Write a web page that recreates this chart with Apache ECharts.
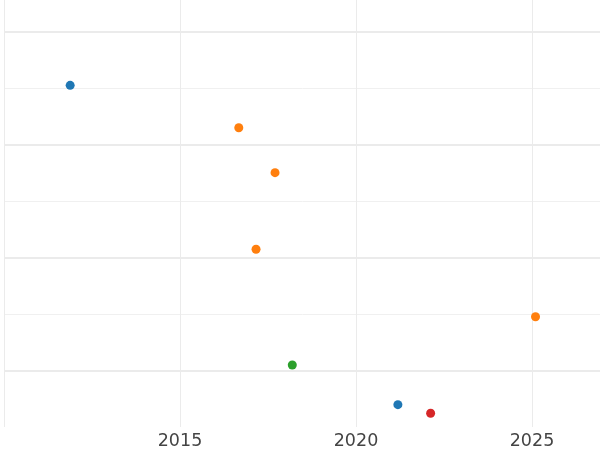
<!DOCTYPE html>
<html>
<head>
<meta charset="utf-8">
<script src="https://cdn.jsdelivr.net/npm/echarts@6/dist/echarts.min.js"></script>
<style>
html,body{margin:0;padding:0;background:#fff;}
#chart{width:600px;height:450px;}
</style>
</head>
<body>
<div id="chart"></div>
<script>
// Data (x: year, y: position value, axis inverted)
const blueX = [2011.88, 2021.19];
const blueY = [1.472, 4.298];
const orangeX = [2016.67, 2017.70, 2017.16, 2025.10];
const orangeY = [1.847, 2.245, 2.923, 3.520];
const greenX = [2018.19];
const greenY = [3.947];
const redX = [2022.12];
const redY = [4.374];
const xTicks = [2015, 2020, 2025];

const colors = ['#1f77b4', '#ff7f0e', '#2ca02c', '#d62728'];
function pts(xs, ys) { return xs.map((x, i) => [x, ys[i]]); }
const groups = [pts(blueX, blueY), pts(orangeX, orangeY), pts(greenX, greenY), pts(redX, redY)];

const chart = echarts.init(document.getElementById('chart'), null, {renderer: 'canvas'});
chart.setOption({
  animation: false,
  backgroundColor: '#ffffff',
  grid: {left: 4, right: -20, top: -81, bottom: 23, containLabel: false, outerBoundsMode: 'none'},
  xAxis: {
    type: 'value',
    min: 2010,
    max: 2027.5,
    interval: 5,
    axisLine: {show: false},
    axisTick: {show: false},
    axisLabel: {
      margin: 5,
      fontFamily: 'DejaVu Sans',
      fontSize: 17.5,
      color: '#444444',
      showMinLabel: false,
      showMaxLabel: false,
      formatter: v => xTicks.includes(v) ? String(v) : ''
    },
    splitLine: {show: true, lineStyle: {color: '#ebebeb', width: 1}}
  },
  yAxis: {
    type: 'value',
    inverse: true,
    min: 0,
    max: 4.4956,
    interval: 1,
    axisLine: {show: false},
    axisTick: {show: false},
    axisLabel: {show: false},
    splitLine: {show: true, showMaxLine: false, lineStyle: {color: '#ebebeb', width: 2}},
    minorTick: {show: false, splitNumber: 2},
    minorSplitLine: {show: true, lineStyle: {color: '#f0f0f0', width: 1}}
  },
  series: groups.map((g, i) => ({
    type: 'scatter',
    data: g,
    symbolSize: 9,
    itemStyle: {color: colors[i], opacity: 1},
    clip: false
  }))
});
</script>
</body>
</html>
